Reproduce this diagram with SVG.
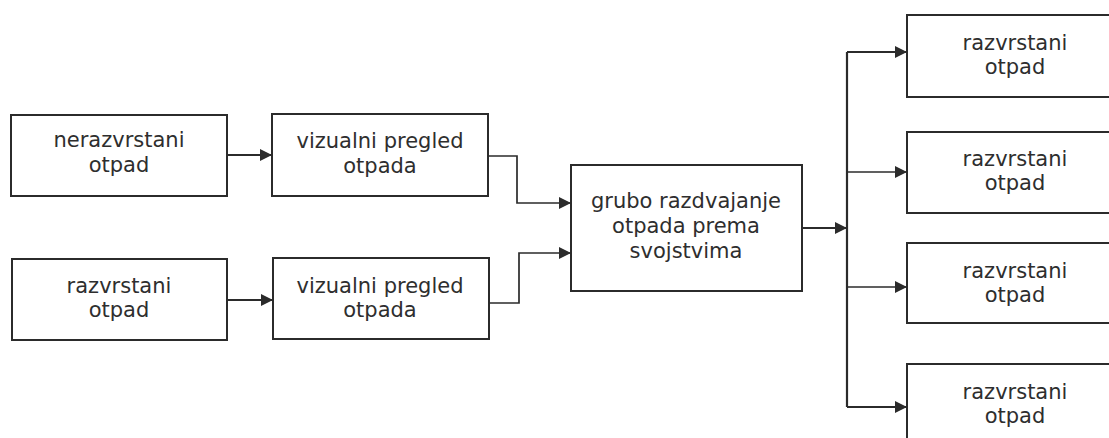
<svg xmlns="http://www.w3.org/2000/svg" width="1109" height="438" viewBox="0 0 1109 438">
<defs>
<style>
.box{fill:#fff;stroke:#2b2b2b;stroke-width:2}
.t{font-family:"DejaVu Sans",Verdana,sans-serif;font-size:21px;fill:#2e2e2e;text-anchor:middle}
.c{fill:none;stroke:#2b2b2b;stroke-width:2.2}
.c1{fill:none;stroke:#2b2b2b;stroke-width:1.7}
</style>
<marker id="ah" viewBox="0 0 12 12" refX="12" refY="6" markerWidth="12" markerHeight="12" markerUnits="userSpaceOnUse" orient="auto">
<path d="M0,0 L12,6 L0,12 Z" fill="#2b2b2b"/>
</marker>
</defs>
<rect width="1109" height="438" fill="#fff"/>
<g id="n1"><rect class="box" x="11" y="115" width="216" height="81"/><text class="t" x="119" y="147">nerazvrstani</text><text class="t" x="119" y="172">otpad</text></g>
<g id="n2"><rect class="box" x="272" y="114" width="216" height="82"/><text class="t" x="380" y="148">vizualni pregled</text><text class="t" x="380" y="173">otpada</text></g>
<g id="n3"><rect class="box" x="12" y="259" width="215" height="81"/><text class="t" x="119" y="293">razvrstani</text><text class="t" x="119" y="317">otpad</text></g>
<g id="n4"><rect class="box" x="273" y="258" width="216" height="81"/><text class="t" x="380" y="293">vizualni pregled</text><text class="t" x="380" y="317">otpada</text></g>
<g id="n5"><rect class="box" x="571" y="165" width="231" height="126"/><text class="t" x="686" y="208">grubo razdvajanje</text><text class="t" x="686" y="233">otpada prema</text><text class="t" x="686" y="258">svojstvima</text></g>
<g id="n6"><rect class="box" x="907" y="15" width="216" height="82"/><text class="t" x="1015" y="50">razvrstani</text><text class="t" x="1015" y="74">otpad</text></g>
<g id="n7"><rect class="box" x="907" y="132" width="216" height="81"/><text class="t" x="1015" y="166">razvrstani</text><text class="t" x="1015" y="190">otpad</text></g>
<g id="n8"><rect class="box" x="907" y="243" width="216" height="80"/><text class="t" x="1015" y="278">razvrstani</text><text class="t" x="1015" y="302">otpad</text></g>
<g id="n9"><rect class="box" x="907" y="364" width="216" height="90"/><text class="t" x="1015" y="399">razvrstani</text><text class="t" x="1015" y="423">otpad</text></g>
<g id="connectors">
<path class="c" d="M227,155 H272" marker-end="url(#ah)"/>
<path class="c" d="M227,300 H273" marker-end="url(#ah)"/>
<path class="c1" d="M488,156 H517 V203 H571" marker-end="url(#ah)"/>
<path class="c1" d="M489,303 H519 V253 H571" marker-end="url(#ah)"/>
<path class="c" d="M802,228 H847" marker-end="url(#ah)"/>
<path class="c" d="M847,52 V407"/>
<path class="c" d="M847,52 H907" marker-end="url(#ah)"/>
<path class="c1" d="M847,172 H907" marker-end="url(#ah)"/>
<path class="c1" d="M847,287 H907" marker-end="url(#ah)"/>
<path class="c" d="M847,407 H907" marker-end="url(#ah)"/>
</g>
</svg>
